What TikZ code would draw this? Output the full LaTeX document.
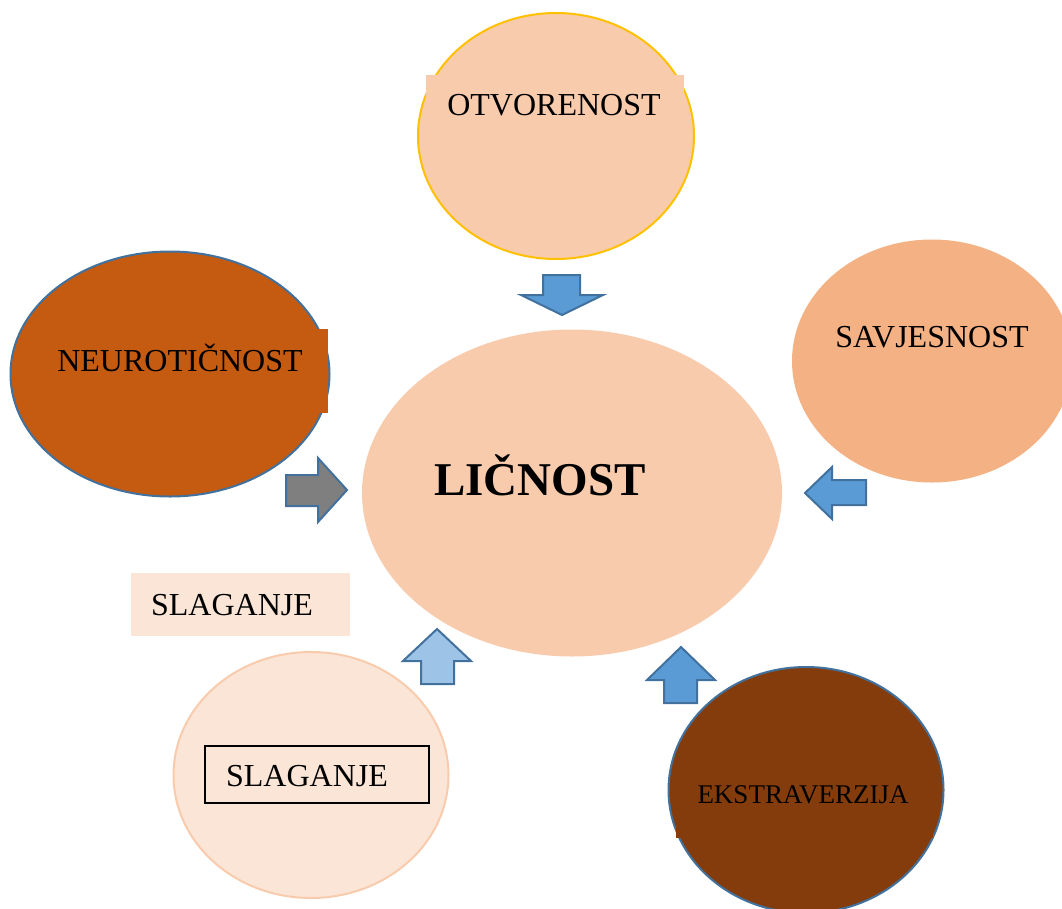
\documentclass[tikz,border=0pt]{standalone}
\usepackage{fontspec}
\setmainfont{Liberation Serif}
\usepackage{xcolor}
\usepackage{tikz}
\usetikzlibrary{shapes,positioning}

\definecolor{peach}{HTML}{F8CBAD}
\definecolor{paleorange}{HTML}{FBE5D6}
\definecolor{lightorange}{HTML}{F4B183}
\definecolor{rust}{HTML}{C55A11}
\definecolor{darkbrown}{HTML}{843C0C}
\definecolor{gold}{HTML}{FFC000}
\definecolor{edgeblue}{HTML}{41719C}
\definecolor{arrowblue}{HTML}{5B9BD5}
\definecolor{paleblue}{HTML}{9DC3E6}
\definecolor{arrowgrey}{HTML}{7F7F7F}

\begin{document}
\begin{tikzpicture}[x=1pt,y=-1pt,
    trait/.style={ellipse,inner sep=0pt,line width=2pt},
    txtbox/.style={rectangle,inner sep=0pt},
    word/.style={inner sep=0pt,font=\fontsize{32}{36}\selectfont},
    blockarrow/.style={draw=edgeblue,line width=2pt,line join=miter}]
    \useasboundingbox (0,0) rectangle (1062,908);
    \clip (0,0) rectangle (1062,908);

    % Traits around the centre
    \node[trait,fill=peach,minimum width=420,minimum height=327] (licnost) at (572,493) {};
    \node[trait,draw=gold,fill=peach,minimum width=276,minimum height=246] (otv) at (556,136) {};
    \node[trait,draw=edgeblue,fill=rust,minimum width=319,minimum height=245] (neu) at (170,374) {};
    \node[trait,fill=lightorange,minimum width=280,minimum height=243] (sav) at (932,361) {};
    \node[trait,draw=peach,fill=paleorange,minimum width=275,minimum height=246] (sla) at (311,775) {};
    \node[trait,draw=edgeblue,fill=darkbrown,minimum width=275,minimum height=246] (eks) at (806,790) {};

    % Text boxes
    \node[txtbox,fill=peach,minimum width=258,minimum height=60] (otvbox) at (555,105) {};
    \node[txtbox,fill=rust,minimum width=278,minimum height=84] (neubox) at (189,371) {};
    \node[txtbox,fill=darkbrown,minimum width=257,minimum height=78] (eksbox) at (804.5,799) {};
    \node[txtbox,fill=paleorange,minimum width=219,minimum height=63] (slabox) at (240.5,604.5) {};
    \node[txtbox,draw=black,line width=1.4pt,minimum width=224,minimum height=57] (slaframe) at (317,774.5) {};

    % Labels
    \node[inner sep=0pt,font=\bfseries\fontsize{47}{52}\selectfont] (licnosttxt) at (540,475) {LIČNOST};
    \node[word] (otvtxt) at (554,105) {OTVORENOST};
    \node[word] (neutxt) at (180,358) {NEUROTIČNOST};
    \node[word] (savtxt) at (932,337) {SAVJESNOST};
    \node[word] (slatxt) at (232,605) {SLAGANJE};
    \node[word] (slaframetxt) at (307,776) {SLAGANJE};
    \node[word,font=\fontsize{27}{32}\selectfont] (ekstxt) at (803,795) {EKSTRAVERZIJA};

    % Block arrows
    \draw[blockarrow,fill=arrowblue] (543,275) -- (580,275) -- (580,295) -- (603,295) -- (562,315) -- (521,295) -- (543,295) -- cycle;
    \draw[blockarrow,fill=arrowgrey] (286,475) -- (318,475) -- (318,458) -- (347,490) -- (318,522) -- (318,506) -- (286,506) -- cycle;
    \draw[blockarrow,fill=arrowblue] (866,480) -- (832,480) -- (832,467) -- (805,493) -- (832,519) -- (832,505) -- (866,505) -- cycle;
    \draw[blockarrow,fill=paleblue] (421,684) -- (421,661) -- (403,661) -- (437,629) -- (471,661) -- (454,661) -- (454,684) -- cycle;
    \draw[blockarrow,fill=arrowblue] (664,703) -- (664,680) -- (647,680) -- (681,647) -- (715,680) -- (697,680) -- (697,703) -- cycle;
\end{tikzpicture}
\end{document}
